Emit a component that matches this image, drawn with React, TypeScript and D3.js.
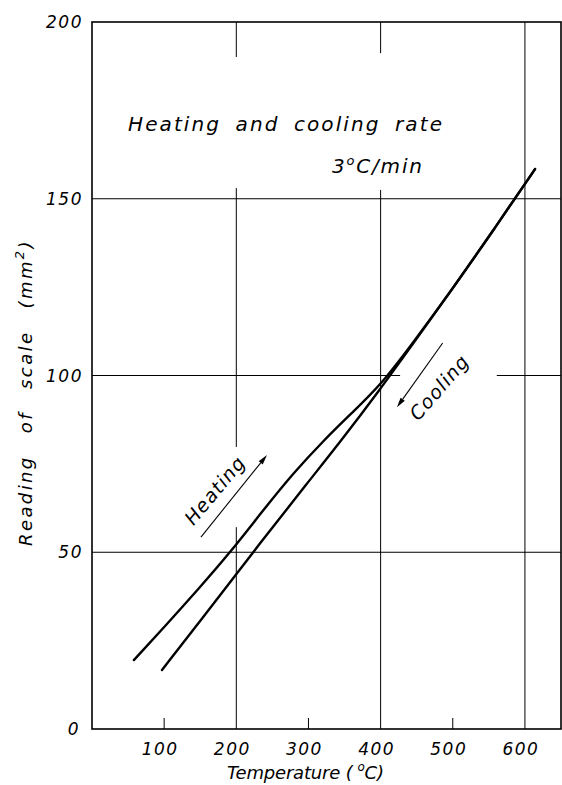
import React from "react";
import * as d3 from "d3";

// ---- data ----
const heatingT = [58, 100, 150, 191, 240, 280, 320, 360, 399, 445, 500, 556, 614];
const heatingR = [19.5, 28.8, 40.2, 49.8, 62.6, 72.6, 81.4, 89.4, 97.0, 109.3, 124.6, 141.0, 158.4];
const coolingT = [97, 150, 223, 302, 344, 399, 445, 500, 556, 614];
const coolingR = [16.7, 30.5, 50.0, 70.5, 81.2, 96.0, 109.0, 124.6, 141.0, 158.4];

const xTickLabels = [100, 200, 300, 400, 500, 600];
const xGridValues = [200, 400, 600];
const xMinorTicks = [100, 300, 500];
const yTickLabels = [0, 50, 100, 150, 200];
const yGridValues = [50, 100, 150];

// annotation arrows in data units [T0, R0, T1, R1] (arrowhead at end)
const heatingArrow = [151, 54.3, 242.5, 77.5];
const coolingArrow = [486, 109.2, 422.6, 91];

const W = 562, H = 785;
const x = d3.scaleLinear().domain([0, 650]).range([92, 561]);
const y = d3.scaleLinear().domain([0, 200]).range([729, 22]);

const FONT = "'DejaVu Sans', 'Liberation Sans', sans-serif";

export default function App() {
  const line = d3
    .line<[number, number]>()
    .x((d) => x(d[0]))
    .y((d) => y(d[1]))
    .curve(d3.curveBasis);
  const heat: [number, number][] = heatingT.map((t, i) => [t, heatingR[i]]);
  const cool: [number, number][] = coolingT.map((t, i) => [t, coolingR[i]]);

  // vertical grid segments (gaps where lettering was placed)
  const vSegments: Record<number, [number, number][]> = {
    200: [[200, 190.1], [153, 79.8], [57.1, 0]],
    400: [[200, 191.2], [152.5, 0]],
    600: [[200, 0]],
  };
  const hSegments: Record<number, [number, number][]> = {
    50: [[0, 650]],
    100: [[0, 427], [561, 650]],
    150: [[0, 650]],
  };

  const arrow = (a: number[], key: string) => {
    const x0 = x(a[0]), y0 = y(a[1]), x1 = x(a[2]), y1 = y(a[3]);
    const ang = Math.atan2(y1 - y0, x1 - x0);
    const L = 10, Wd = 2.6;
    const bx = x1 - L * Math.cos(ang), by = y1 - L * Math.sin(ang);
    const px = -Math.sin(ang) * Wd, py = Math.cos(ang) * Wd;
    return (
      <g key={key}>
        <line x1={x0} y1={y0} x2={bx} y2={by} stroke="#000" strokeWidth={1.1} />
        <path d={`M${x1},${y1}L${bx + px},${by + py}L${bx - px},${by - py}Z`} fill="#000" />
      </g>
    );
  };

  return (
    <svg
      width={W}
      height={H}
      style={{ position: "absolute", left: 0, top: 0, background: "#fff" }}
      fontFamily={FONT}
      fontStyle="italic"
    >
      <rect x={0} y={0} width={W} height={H} fill="#fff" />
      {/* grid */}
      {xGridValues.map((v) =>
        vSegments[v].map((s, i) => (
          <line key={`v${v}-${i}`} x1={x(v)} x2={x(v)} y1={y(s[0])} y2={y(s[1])} stroke="#000" strokeWidth={1} />
        ))
      )}
      {yGridValues.map((v) =>
        hSegments[v].map((s, i) => (
          <line key={`h${v}-${i}`} x1={x(s[0])} x2={x(s[1])} y1={y(v)} y2={y(v)} stroke="#000" strokeWidth={1} />
        ))
      )}
      {xMinorTicks.map((v) => (
        <line key={`mt${v}`} x1={x(v)} x2={x(v)} y1={y(0)} y2={y(0) - 11} stroke="#000" strokeWidth={1} />
      ))}
      {/* frame */}
      <rect x={x(0)} y={y(200)} width={x(650) - x(0)} height={y(0) - y(200)} fill="none" stroke="#000" strokeWidth={1.6} />

      {/* curves */}
      <path d={line(cool) || ""} fill="none" stroke="#000" strokeWidth={2.4} strokeLinecap="round" />
      <path d={line(heat) || ""} fill="none" stroke="#000" strokeWidth={2.4} strokeLinecap="round" />

      {/* tick labels */}
      {xTickLabels.map((v) => (
        <text key={`xl${v}`} x={x(v) - 4} y={755} fontSize={17} textAnchor="middle" letterSpacing={1.5}>
          {v}
        </text>
      ))}
      {yTickLabels.map((v) => (
        <text key={`yl${v}`} x={v === 0 ? 80 : 83} y={y(v) + 6} fontSize={17} textAnchor="end" letterSpacing={1.5}>
          {v}
        </text>
      ))}

      {/* axis titles */}
      <text x={227} y={779} fontSize={18} textLength={157} lengthAdjust="spacing">
        Temperature (<tspan dx={5} dy={-8} fontSize={12}>o</tspan>
        <tspan dy={8}>C)</tspan>
      </text>
      <text transform="translate(32,546) rotate(-90)" fontSize={18} x={0} y={0} wordSpacing={14} letterSpacing={2.4}>
        Reading of scale (mm<tspan dy={-8} fontSize={13}>2</tspan>
        <tspan dy={8}>)</tspan>
      </text>

      {/* in-plot lettering */}
      <text x={128} y={131} fontSize={20} letterSpacing={2.1} wordSpacing={6}>
        Heating and cooling rate
      </text>
      <text x={332} y={173} fontSize={20} letterSpacing={1.8}>
        3<tspan dy={-8} fontSize={13}>o</tspan>
        <tspan dy={8}>C/min</tspan>
      </text>
      <text
        transform={`translate(${x(170)},${y(67.6)}) rotate(-50)`}
        fontSize={19}
        textAnchor="middle"
        dominantBaseline="central"
        letterSpacing={1.2}
      >
        Heating
      </text>
      <text
        transform={`translate(${x(481)},${y(96.7)}) rotate(-49)`}
        fontSize={19}
        textAnchor="middle"
        dominantBaseline="central"
        letterSpacing={1.2}
      >
        Cooling
      </text>
      {arrow(heatingArrow, "ha")}
      {arrow(coolingArrow, "ca")}
    </svg>
  );
}
